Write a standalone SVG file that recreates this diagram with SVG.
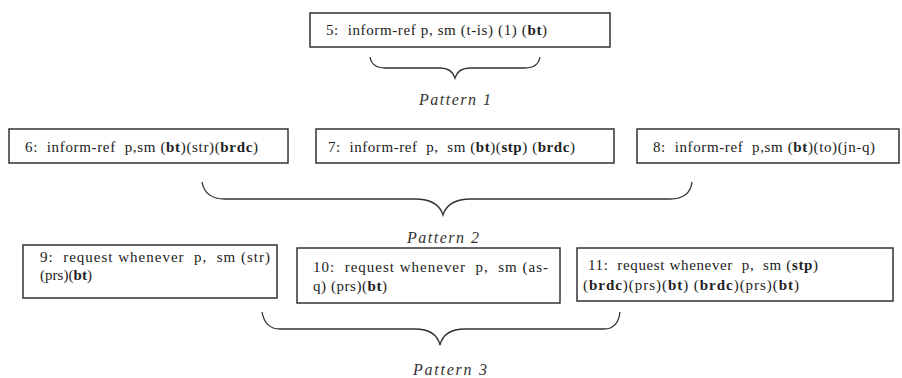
<svg xmlns="http://www.w3.org/2000/svg" width="902" height="378" viewBox="0 0 902 378">
<style>
.box{fill:#fff;stroke:#333;stroke-width:1.5}
.t{font-family:"Liberation Serif",serif;font-size:15px;fill:#222;white-space:pre}
.b{font-weight:bold}
.pat{font-family:"Liberation Serif",serif;font-size:16px;font-style:italic;fill:#333;text-anchor:middle}
.brace{fill:none;stroke:#333;stroke-width:1.3}
</style>
<rect width="902" height="378" fill="#fff"/>
<g id="n5"><rect class="box" x="310" y="13" width="300" height="34"/><text class="t" x="326" y="35" textLength="221">5:  inform-ref p, sm (t-is) (1) (<tspan class="b">bt</tspan>)</text></g>
<g id="n6"><rect class="box" x="9" y="129" width="279" height="34"/><text class="t" x="25" y="152" textLength="233">6:  inform-ref  p,sm (<tspan class="b">bt</tspan>)(str)(<tspan class="b">brdc</tspan>)</text></g>
<g id="n7"><rect class="box" x="316" y="129" width="298" height="34"/><text class="t" x="328" y="152" textLength="247">7:  inform-ref  p,  sm (<tspan class="b">bt</tspan>)(<tspan class="b">stp</tspan>) (<tspan class="b">brdc</tspan>)</text></g>
<g id="n8"><rect class="box" x="637" y="129" width="262" height="34"/><text class="t" x="653" y="152" textLength="222">8:  inform-ref  p,sm (<tspan class="b">bt</tspan>)(to)(jn-q)</text></g>
<g id="n9"><rect class="box" x="23" y="245" width="254" height="53"/><text class="t" x="40" y="262" textLength="230">9:  request whenever  p,  sm (str)</text><text class="t" x="40" y="280" textLength="52">(prs)(<tspan class="b">bt</tspan>)</text></g>
<g id="n10"><rect class="box" x="297" y="248" width="263" height="55"/><text class="t" x="313" y="272" textLength="235">10:  request whenever  p,  sm (as-</text><text class="t" x="313" y="291" textLength="74">q) (prs)(<tspan class="b">bt</tspan>)</text></g>
<g id="n11"><rect class="box" x="577" y="248" width="316" height="53"/><text class="t" x="588" y="270" textLength="230">11:  request whenever  p,  sm (<tspan class="b">stp</tspan>)</text><text class="t" x="583" y="290" textLength="216">(<tspan class="b">brdc</tspan>)(prs)(<tspan class="b">bt</tspan>) (<tspan class="b">brdc</tspan>)(prs)(<tspan class="b">bt</tspan>)</text></g>
<g id="connectors">
<path class="brace" d="M370,57 Q372,68 385,68 L440,68 Q452,68 455,78 Q458,68 470,68 L525,68 Q538,68 540,57"/>
<path class="brace" d="M202,182 Q205,199 225,199 L415,199 Q438,199 443,215 Q448,199 471,199 L670,199 Q690,199 692,182"/>
<path class="brace" d="M262,312 Q265,329 280,329 L415,329 Q436,329 440,345 Q444,329 465,329 L604,329 Q618,329 620,312"/>
</g>
<text class="pat" x="455" y="105" textLength="72">Pattern 1</text>
<text class="pat" x="443" y="243" textLength="72">Pattern 2</text>
<text class="pat" x="450" y="375" textLength="74">Pattern 3</text>
</svg>
